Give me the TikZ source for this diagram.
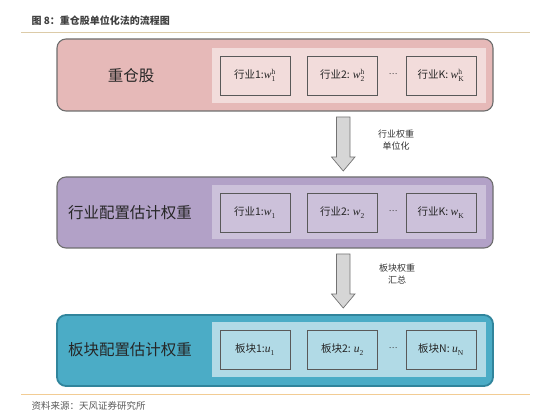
\documentclass[tikz,border=0pt]{standalone}
\usepackage{fontspec}
\setmainfont{Noto Sans CJK SC}
\newfontfamily\cjk{Noto Sans CJK SC}
\newfontfamily\lsr{Liberation Serif}
\usetikzlibrary{positioning}
\newcommand{\mysc}[1]{\mbox{\lsr\fontsize{7.5}{8}\selectfont #1}}
\newcommand{\myvar}[3]{$\mbox{\lsr\itshape\fontsize{11.5}{12}\selectfont #1}_{\mysc{#2}}^{\mysc{#3}}$}
\definecolor{pinkA}{HTML}{E6B9B8}
\definecolor{pinkB}{HTML}{F2DCDB}
\definecolor{purA}{HTML}{B2A1C7}
\definecolor{purB}{HTML}{CCC1DA}
\definecolor{tealA}{HTML}{4BACC6}
\definecolor{tealB}{HTML}{B1DAE6}
\definecolor{tealD}{HTML}{31859C}
\definecolor{bordG}{HTML}{6E6E6E}
\definecolor{subG}{HTML}{595959}
\definecolor{lineTop}{HTML}{DCCBA8}
\definecolor{lineBot}{HTML}{F2CC94}
\definecolor{arrG}{HTML}{D6D6D6}
\definecolor{txtG}{HTML}{404040}
\tikzset{
  outerbox/.style={draw=bordG, line width=1.1pt, rounded corners=9pt, minimum width=436pt, minimum height=72pt, inner sep=0pt},
  innerbox/.style={draw=none, minimum width=274pt, minimum height=55pt, inner sep=0pt},
  subbox/.style={draw=subG, line width=0.8pt, minimum width=70pt, minimum height=39pt, inner sep=0pt, font=\cjk\fontsize{10.5}{12}\selectfont, text=black!85},
  mainlabel/.style={font=\cjk\fontsize{15.5}{18}\selectfont, text=black!85},
  arrlabel/.style={font=\cjk\fontsize{9}{12}\selectfont, align=center, text=black!80},
  blockarrow/.style={draw=black!55, fill=arrG, line width=0.7pt},
  dotslabel/.style={font=\cjk\fontsize{8}{10}\selectfont, text=black!80},
  rule/.style={line width=0.8pt}
}
\begin{document}
\begin{tikzpicture}[x=1pt,y=-1pt]
\useasboundingbox (0,0) rectangle (550,417);
% title and rules
\node[anchor=west, font=\cjk\bfseries\fontsize{10}{12}\selectfont, text=txtG] (title) at (28,21) {图 8：重仓股单位化法的流程图};
\coordinate (tl) at (21,32.5);
\coordinate (tr) at (530,32.5);
\draw[rule, draw=lineTop] (tl) -- (tr);
\coordinate (bl) at (21,394);
\coordinate (br) at (530,394);
\draw[rule, draw=lineBot] (bl) -- (br);
\node[anchor=west, font=\cjk\fontsize{9.5}{12}\selectfont, text=black!65] (src) at (28,406) {资料来源：天风证券研究所};

% box 1
\node[outerbox, fill=pinkA] (b1) at (275,75) {};
\node[innerbox, fill=pinkB] (i1) at (349,75.5) {};
\node[mainlabel] (l1) at (131,76) {重仓股};
\node[subbox, fill=pinkB] (s11) at (255,75.5) {行业1:\myvar{w}{1}{h}};
\node[subbox, fill=pinkB] (s12) at (342.5,75.5) {行业2: \myvar{w}{2}{h}};
\node[dotslabel] (d1) at (393,74) {…};
\node[subbox, fill=pinkB] (s13) at (441,75.5) {行业K: \myvar{w}{K}{h}};

% box 2
\node[outerbox, fill=purA, minimum height=71pt] (b2) at (275,212.5) {};
\node[innerbox, fill=purB, minimum height=54pt] (i2) at (349,212) {};
\node[mainlabel] (l2) at (130,213) {行业配置估计权重};
\node[subbox, fill=purB] (s21) at (255,212.5) {行业1:\myvar{w}{1}{}};
\node[subbox, fill=purB] (s22) at (342.5,212.5) {行业2: \myvar{w}{2}{}};
\node[dotslabel] (d2) at (393,211) {…};
\node[subbox, fill=purB] (s23) at (441,212.5) {行业K: \myvar{w}{K}{}};

% box 3
\node[outerbox, fill=tealA, draw=tealD, line width=1.8pt, minimum height=71pt] (b3) at (275,350.5) {};
\node[innerbox, fill=tealB] (i3) at (349,349.5) {};
\node[mainlabel] (l3) at (130,350) {板块配置估计权重};
\node[subbox, fill=tealB] (s31) at (255,349.5) {板块1:\myvar{u}{1}{}};
\node[subbox, fill=tealB] (s32) at (342.5,349.5) {板块2: \myvar{u}{2}{}};
\node[dotslabel] (d3) at (393,348) {…};
\node[subbox, fill=tealB] (s33) at (441,349.5) {板块N: \myvar{u}{N}{}};

% arrow 1
\draw[blockarrow] (336.5,117) -- (350,117) -- (350,157) -- (355,157) -- (343.25,171) -- (331.5,157) -- (336.5,157) -- cycle;
\node[arrlabel] (a1) at (396,140) {行业权重\\单位化};
% arrow 2
\draw[blockarrow] (336.5,254) -- (350,254) -- (350,294) -- (355,294) -- (343.25,308) -- (331.5,294) -- (336.5,294) -- cycle;
\node[arrlabel] (a2) at (397,274) {板块权重\\汇总};
\end{tikzpicture}
\end{document}
